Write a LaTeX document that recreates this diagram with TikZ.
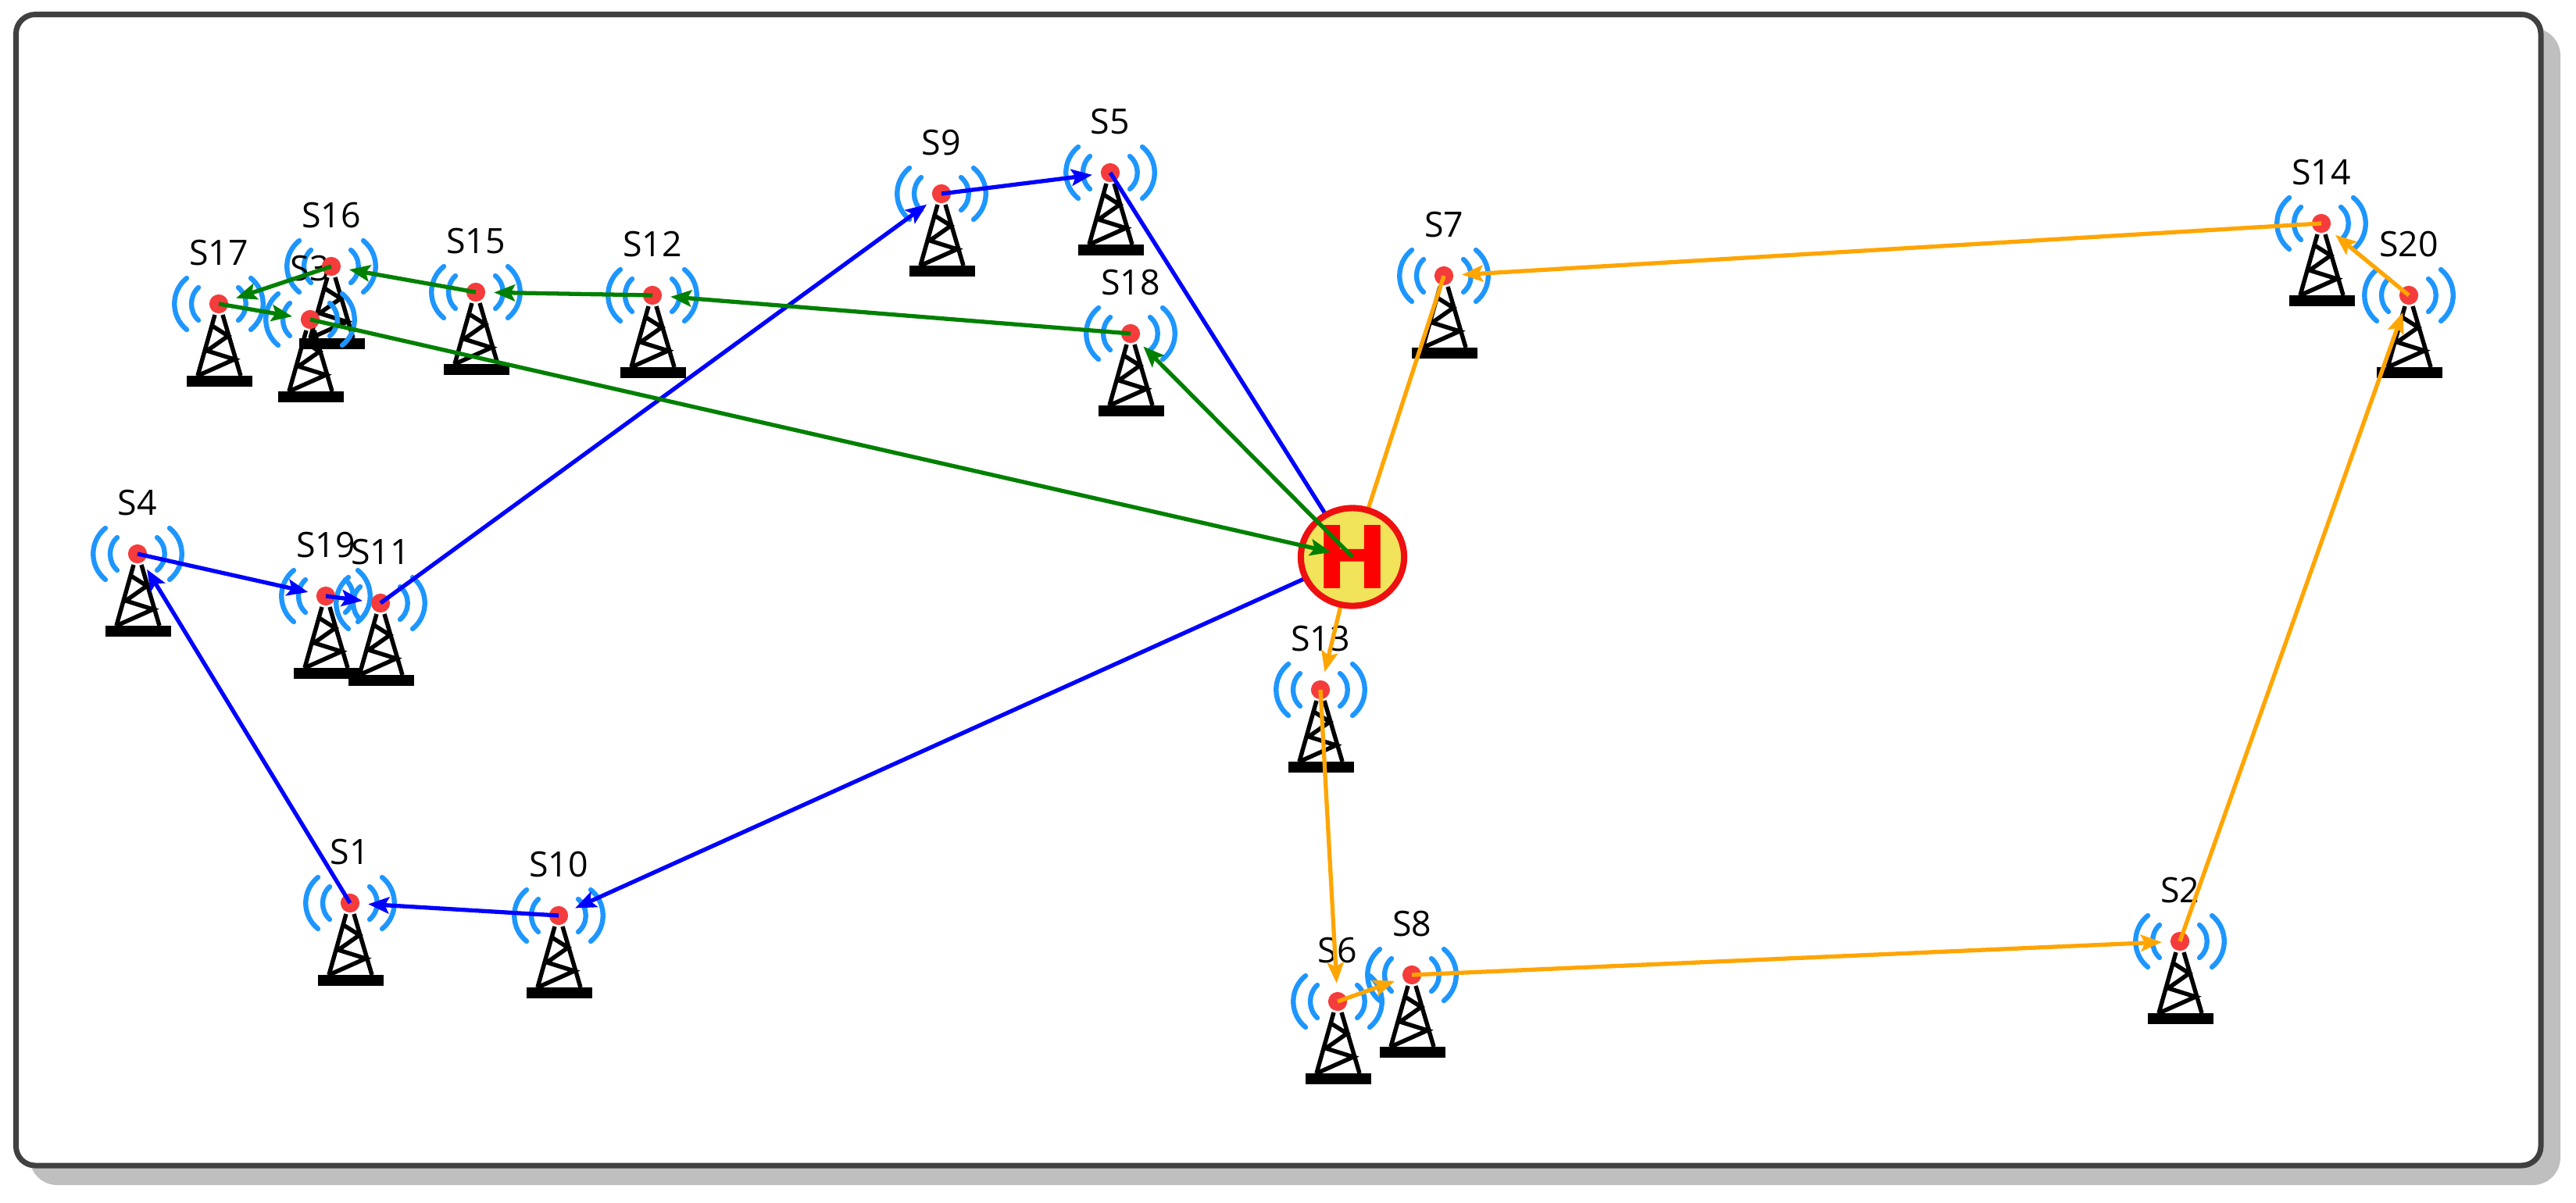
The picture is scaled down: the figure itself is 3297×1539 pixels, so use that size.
\documentclass[tikz,border=0pt]{standalone}
\usepackage{fontspec}
\setmainfont{Open Sans}
\newfontfamily\hubfont{DejaVu Sans}
\usetikzlibrary{arrows.meta,shapes.geometric}
\definecolor{wave}{RGB}{30,150,255}
\definecolor{dotred}{RGB}{245,60,60}
\definecolor{hubfill}{RGB}{241,227,90}
\definecolor{hubred}{RGB}{238,16,16}
\definecolor{route}{RGB}{255,165,0}
\tikzset{
  dot/.style={circle,fill=dotred,inner sep=0pt,minimum size=6.9pt},
  tag/.style={inner sep=0pt,font=\fontsize{12.7}{13}\selectfont},
  blueline/.style={blue,line width=1.5pt,-{Stealth[length=7.6pt,width=6pt,inset=1.5pt]},shorten >=6.6pt},
  greenline/.style={blueline,green!50!black},
  orangeline/.style={blueline,route},
  tower/.pic={
    \draw[wave,line width=1.8pt,line cap=round]
      (-41,-33) .. controls (-62,-16) and (-62,16) .. (-41,33)
      (-26,-21) .. controls (-38,-10) and (-38,10) .. (-26,21)
      (41,-33) .. controls (62,-16) and (62,16) .. (41,33)
      (25,-21) .. controls (38,-10) and (38,10) .. (25,21);
    \draw[black,line width=1.55pt] (-5,14) -- (-27,92) (5,14) -- (28,92)
      (-7,29) -- (12,41) -- (-15,60) -- (20,71) -- (-27,92);
    \fill[black] (-41,92) rectangle (43,105.5);
  }
}
\def\towerlist{s1/S1/448/1156,s2/S2/2790/1205,s4/S4/176/709,s5/S5/1421/221,s6/S6/1712/1282,%
s7/S7/1848/353,s8/S8/1807/1248,s9/S9/1205/248,s10/S10/715/1172,s11/S11/487/772,%
s12/S12/835/378,s13/S13/1690/883,s14/S14/2971/286,s15/S15/609/374,s16/S16/424/341,%
s3/S3/397/409,s17/S17/280/389,s18/S18/1447/427,s19/S19/417/763,s20/S20/3083/378}
\begin{document}
\begin{tikzpicture}[x=0.01cm,y=-0.01cm]
\useasboundingbox (0,0) rectangle (3297,1539);
\fill[black!25,rounded corners=10pt] (38,36) rectangle (3277,1517);
\draw[fill=white,draw=black!75,line width=2pt,rounded corners=7pt] (20.5,18.5) rectangle (3252,1492);
% towers, then labels, then the dots
\foreach \nm/\lbl/\x/\y in \towerlist
  \pic at (\x,\y) {tower};
\foreach \nm/\lbl/\x/\y in \towerlist
  \node[tag] (tag\nm) at (\x,\y-65) {\lbl};
\foreach \nm/\lbl/\x/\y in \towerlist
  \node[dot] (\nm) at (\x,\y) {};
% blue and orange tours run under the hub
\coordinate (hubc) at (1731,713);
\draw[blueline] (hubc) -- (s10.center);
\draw[blueline] (s10.center) -- (s1.center);
\draw[blueline] (s1.center) -- (s4.center);
\draw[blueline] (s4.center) -- (s19.center);
\draw[blueline] (s19.center) -- (s11.center);
\draw[blueline] (s11.center) -- (s9.center);
\draw[blueline] (s9.center) -- (s5.center);
\draw[blueline] (s5.center) -- (hubc);
\draw[orangeline] (hubc) -- (s13.center);
\draw[orangeline] (s13.center) -- (s6.center);
\draw[orangeline] (s6.center) -- (s8.center);
\draw[orangeline] (s8.center) -- (s2.center);
\draw[orangeline] (s2.center) -- (s20.center);
\draw[orangeline] (s20.center) -- (s14.center);
\draw[orangeline] (s14.center) -- (s7.center);
\draw[orangeline] (s7.center) -- (hubc);
\node[ellipse,draw=hubred,fill=hubfill,line width=2.3pt,minimum width=37.6pt,minimum height=35.6pt,inner sep=0pt,text=red,
  font=\hubfont\bfseries\fontsize{31.6}{32}\selectfont] (hub) at (1731,713) {H};
\draw[greenline] (hub.center) -- (s18.center);
\draw[greenline] (s18.center) -- (s12.center);
\draw[greenline] (s12.center) -- (s15.center);
\draw[greenline] (s15.center) -- (s16.center);
\draw[greenline] (s16.center) -- (s17.center);
\draw[greenline] (s17.center) -- (s3.center);
\draw[greenline,shorten >=8pt] (s3.center) -- (hub.center);
\end{tikzpicture}
\end{document}
